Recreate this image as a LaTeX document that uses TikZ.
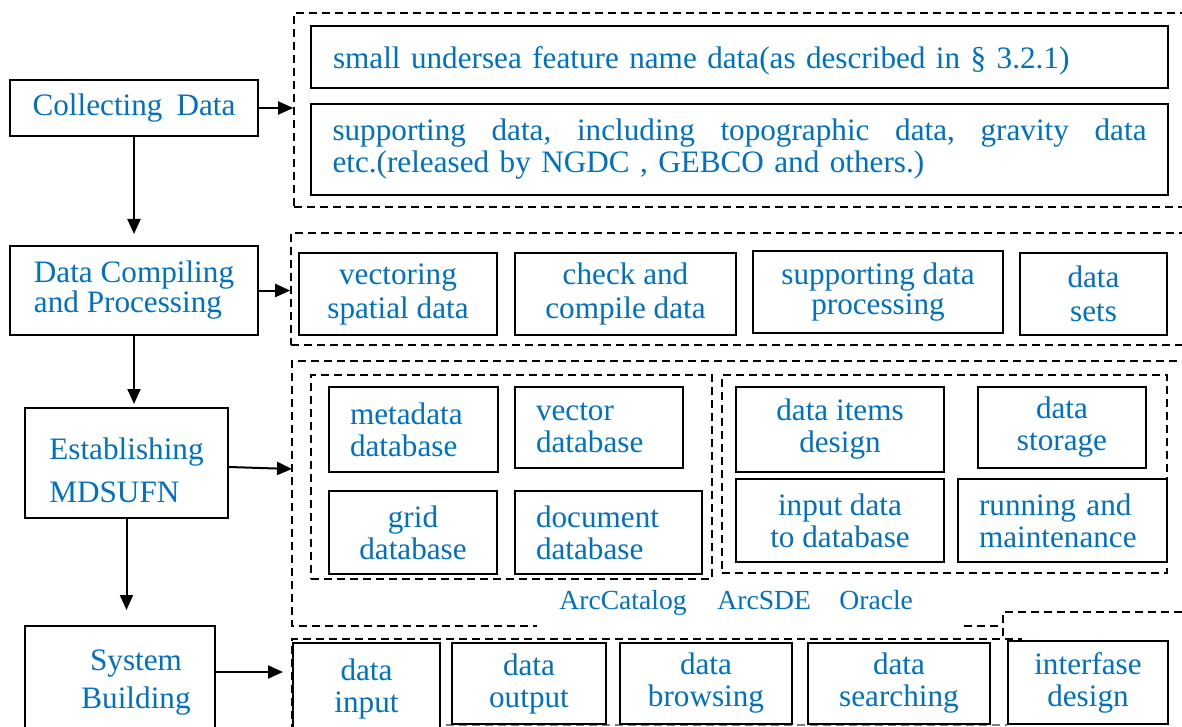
\documentclass[tikz,border=0pt]{standalone}
\usepackage{fontspec}
\setmainfont{Liberation Serif}
\usetikzlibrary{arrows.meta}
\definecolor{txtblue}{RGB}{0,112,192}
\begin{document}
\begin{tikzpicture}[x=0.5pt,y=-0.5pt,
  box/.style={draw=black, line width=1pt, text=txtblue, font=\fontsize{15.6}{16}\selectfont, align=center, inner sep=0pt},
  lbox/.style={box, align=left, inner xsep=10.5pt},
  frame/.style={draw=black, dash pattern=on 4pt off 2.5pt, line width=0.8pt},
  frnode/.style={frame, inner sep=0pt},
  arr/.style={line width=1pt, -{Triangle[length=7.5pt,width=6.5pt]}},
  lbl/.style={text=txtblue, font=\fontsize{13.8}{16}\selectfont, inner sep=0pt, anchor=base west}
]
\useasboundingbox (0,0) rectangle (1182,727);
\clip (0,0) rectangle (1182,727);

% left column
\node[box, minimum width=124pt, minimum height=28pt] (collect) at (134,108) {Collecting\hspace{7pt}Data};
\node[box, minimum width=124pt, minimum height=44.5pt, align=left, font=\fontsize{15.6}{15}\selectfont] (compile) at (134,290.5) {Data Compiling\\and Processing};
\node[box, minimum width=101.5pt, minimum height=55pt, align=left, font=\fontsize{15.6}{21.5}\selectfont] (establish) at (126.5,463) {\rule{0pt}{18pt}Establishing\\MDSUFN};
\node[box, minimum width=95pt, minimum height=57pt, font=\fontsize{15.6}{19}\selectfont] (sys) at (120,683) {\hspace*{16pt}System\\\hspace*{16pt}Building};

% row 1
\node[frnode, minimum width=448pt, minimum height=97pt] (f1) at (742,110) {};
\node[box, minimum width=428.5pt, minimum height=31pt, text width=406.5pt, align=left] (n11) at (739.5,57) {\rule{0pt}{15pt}small undersea feature name data(as described in § 3.2.1)};
\node[box, minimum width=428.5pt, minimum height=45.5pt, text width=407pt, align=left] (n12) at (739.5,149.5) {\makebox[407pt][l]{supporting\hfill data,\hfill including\hfill topographic\hfill data,\hfill gravity\hfill data}\\etc.(released by NGDC , GEBCO and others.)};

% row 2
\node[frnode, minimum width=449.5pt, minimum height=56pt] (f2) at (740.5,289) {};
\node[box, minimum width=99pt, minimum height=41pt, font=\fontsize{15.6}{17}\selectfont] (vec) at (398,294) {vectoring\\spatial data};
\node[box, minimum width=110.5pt, minimum height=41pt, font=\fontsize{15.6}{17}\selectfont] (chk) at (625.5,294) {check and\\compile data};
\node[box, minimum width=125pt, minimum height=41pt, font=\fontsize{15.6}{12}\selectfont] (sdp) at (878,292) {supporting data\\processing};
\node[box, minimum width=73.5pt, minimum height=41pt, font=\fontsize{15.6}{17}\selectfont] (sets) at (1093.5,294) {data\\sets};

% row 3
\draw[frame] (1190,361) -- (292,361) -- (292,626) -- (537,626);
\draw[frame] (964,626) -- (1003,626);
\draw[frame] (1003,636) -- (1003,612) -- (1190,612);
\coordinate (f3w) at (292,469);
\node[frnode, minimum width=200.5pt, minimum height=102pt] (f31) at (511.5,477) {};
\node[frnode, minimum width=222.5pt, minimum height=99pt] (f32) at (944.5,474) {};

\node[lbox, text width=63.5pt, minimum height=42.5pt] (meta) at (413.5,429.5) {metadata\\database};
\node[lbox, text width=63pt, minimum height=40.5pt] (vecdb) at (599,427.5) {vector\\database};
\node[box, minimum width=84pt, minimum height=41.5pt] (grid) at (413,532.5) {grid\\database};
\node[lbox, text width=72.5pt, minimum height=41.5pt] (docdb) at (608.5,532.5) {document\\database};
\node[box, minimum width=104pt, minimum height=42.5pt] (items) at (840,429.5) {data items\\design};
\node[box, minimum width=84pt, minimum height=40.5pt] (storage) at (1062,427.5) {data\\storage};
\node[box, minimum width=104pt, minimum height=41.5pt] (inp) at (840,520.5) {input data\\to database};
\node[lbox, text width=83.5pt, minimum height=41.5pt] (run) at (1062.5,520.5) {running and\\maintenance};

\node[lbl] (arccat) at (559,609) {ArcCatalog};
\node[lbl] (arcsde) at (717,609) {ArcSDE};
\node[lbl] (oracle) at (839,609) {Oracle};

% row 4
\draw[frame] (292,745) -- (292,639) -- (1022,639);
\draw[frame, draw=gray] (446,725) -- (1007,725);
\coordinate (f4w) at (283,672);
\node[box, minimum width=73.5pt, minimum height=46pt] (din) at (366.5,689) {data\\input};
\node[box, minimum width=77pt, minimum height=40.5pt] (dout) at (529,683.5) {data\\output};
\node[box, minimum width=86pt, minimum height=40.5pt] (dbr) at (706,683.5) {data\\browsing};
\node[box, minimum width=91pt, minimum height=40.5pt] (dse) at (899,683.5) {data\\searching};
\node[box, minimum width=80pt, minimum height=41.5pt] (ifd) at (1088,682.5) {interfase\\design};

% arrows
\draw[arr] (collect.east) -- (collect.east -| f1.west);
\draw[arr] (compile.east) -- (compile.east -| f2.west);
\draw[arr] ([yshift=-2pt]establish.east) -- (f3w);
\draw[arr] (sys.east |- f4w) -- (f4w);
\draw[arr] (collect.south) -- ([yshift=5.5pt]compile.north);
\draw[arr] (compile.south) -- ([yshift=1.5pt]compile.south |- establish.north);
\draw[arr] (establish.south) -- ([yshift=7.5pt]establish.south |- sys.north);
\end{tikzpicture}
\end{document}
